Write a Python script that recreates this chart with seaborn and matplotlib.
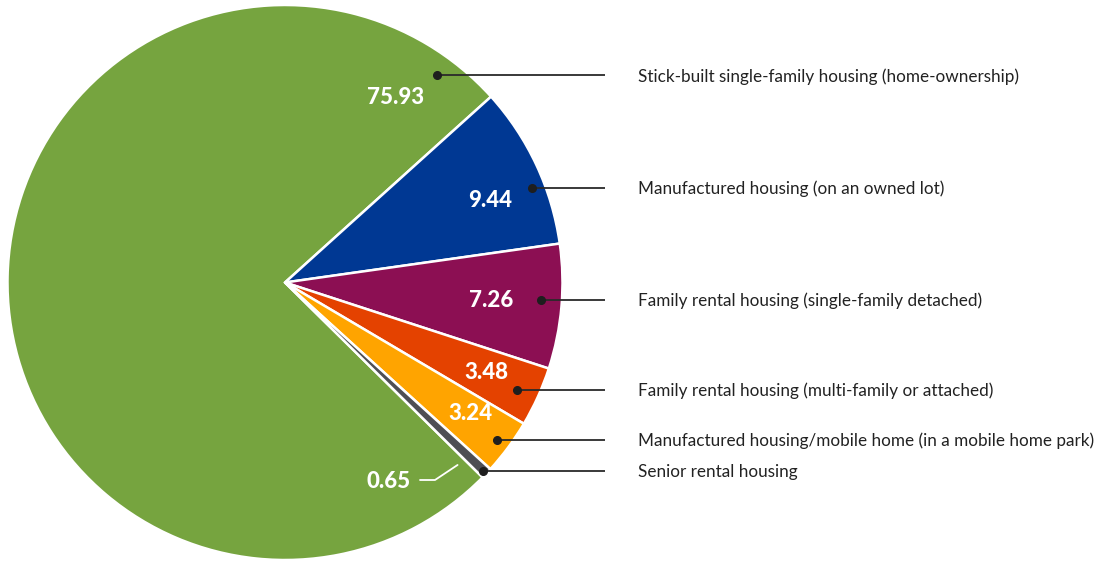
import numpy as np
import matplotlib
matplotlib.use("Agg")
import matplotlib.pyplot as plt
import seaborn as sns

sns.set_theme(style="white")
plt.rcParams["font.family"] = ["Lato", "DejaVu Sans"]

# Housing types and their shares (percent)
categories = [
    "Stick-built single-family housing (home-ownership)",
    "Manufactured housing (on an owned lot)",
    "Family rental housing (single-family detached)",
    "Family rental housing (multi-family or attached)",
    "Manufactured housing/mobile home (in a mobile home park)",
    "Senior rental housing",
]
shares = [75.93, 9.44, 7.26, 3.48, 3.24, 0.65]
value_labels = ["75.93", "9.44", "7.26", "3.48", "3.24", "0.65"]
colors = ["#76A43F", "#003893", "#8C0F53", "#E44200", "#FFA400", "#4E4E54"]

W, H = 1099, 562
fig = plt.figure(figsize=(W / 100, H / 100), dpi=100)
ax = fig.add_axes([0, 0, 1, 1])

cx, cy, R = 285.0, H - 282.5, 277.5
start = -44.6

wedges, _ = ax.pie(
    shares, colors=colors, startangle=start, counterclock=False,
    radius=R, center=(cx, cy), frame=True,
    wedgeprops=dict(edgecolor="white", linewidth=1.8),
)
ax.set_xlim(0, W)
ax.set_ylim(0, H)
ax.set_aspect("equal")
ax.axis("off")

def polar(theta, r):
    t = np.deg2rad(theta)
    return cx + r * np.cos(t), cy + r * np.sin(t)

# leader-dot and value-label anchors in polar form (degrees, fraction of R)
dot_angle = [53.8, 20.9, -3.9, -24.9, -36.6, -43.6]
dot_r = [0.925, 0.953, 0.925, 0.921, 0.951, 0.984]
val_angle = [59.1, 21.7, -4.9, -24.1, -35.4]
val_r = [0.778, 0.795, 0.745, 0.796, 0.818]

line_end_x = 605
text_x = 638
for i, cat in enumerate(categories):
    x, y = polar(dot_angle[i], dot_r[i] * R)
    ax.plot([x, line_end_x], [y, y], color="#2a2a2a", lw=1.3,
            solid_capstyle="butt", zorder=5)
    ax.plot([x], [y], "o", color="#1e1e1e", ms=5.5, zorder=6)
    ax.text(text_x, y - 1, cat, fontsize=12.3, color="#222222",
            va="center", ha="left")

for i in range(5):
    x, y = polar(val_angle[i], val_r[i] * R)
    ax.text(x, y, value_labels[i], fontsize=16, fontweight="black",
            color="white", ha="center", va="center", zorder=7)

# small slice label placed on the big slice with a white leader
gx, gy = polar(-44.6 - 2.0, 0.905 * R)
lx, ly = 389, H - 482
ax.plot([lx + 31, lx + 46, gx], [ly + 2, ly + 2, gy], color="white",
        lw=1.3, zorder=6)
ax.text(lx, ly, value_labels[5], fontsize=16, fontweight="black",
        color="white", ha="center", va="center", zorder=7)

fig.savefig("out.png", dpi=100)
